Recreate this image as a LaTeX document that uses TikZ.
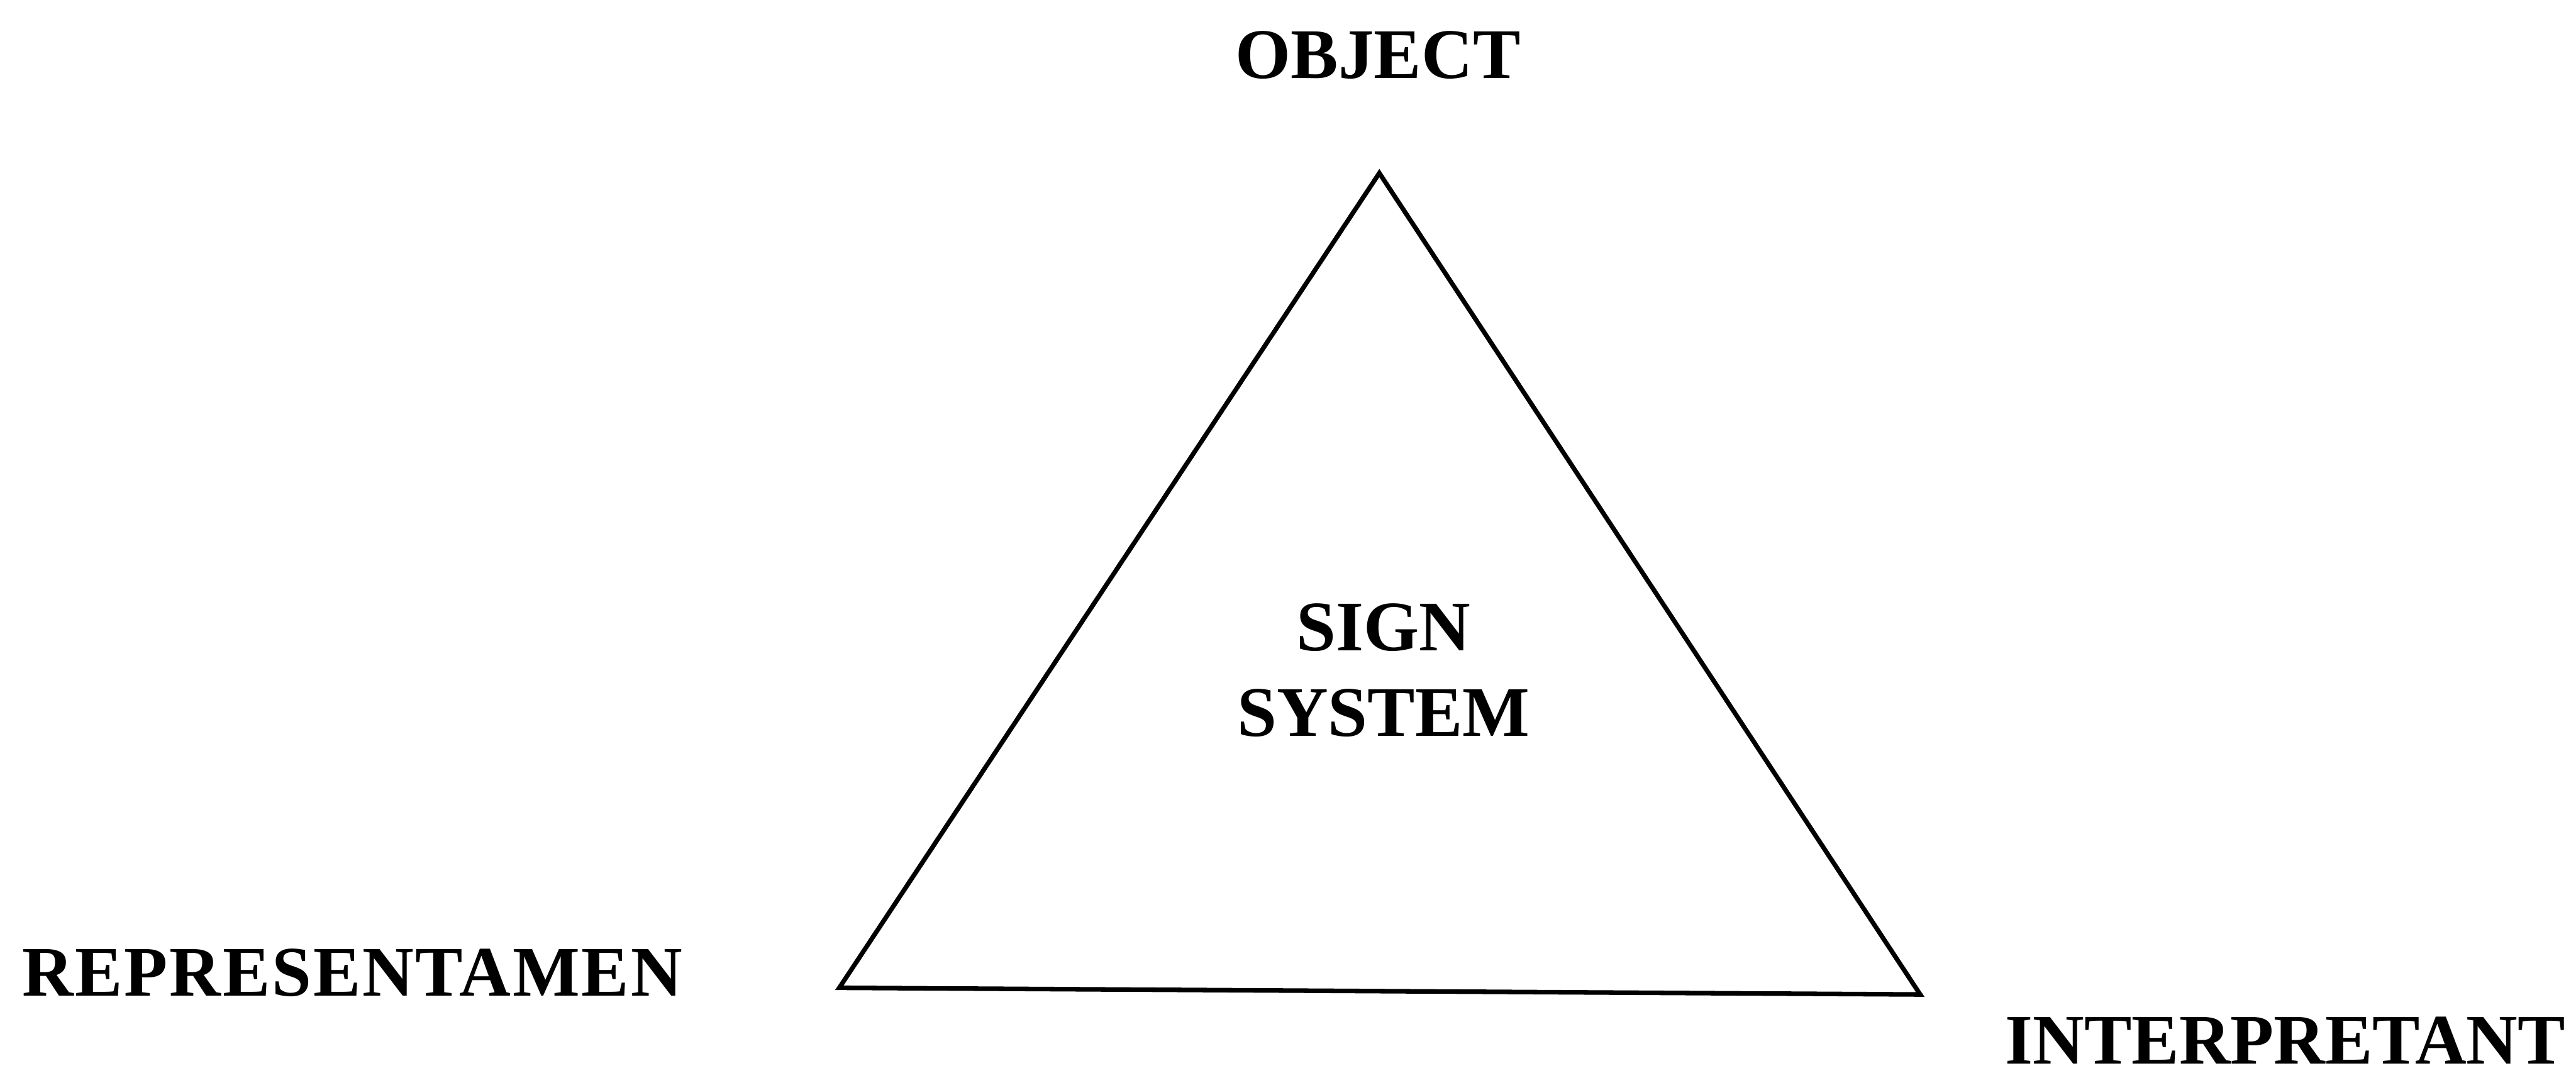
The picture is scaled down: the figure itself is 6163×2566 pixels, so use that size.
\documentclass[tikz,border=0pt]{standalone}
\usepackage{fontspec}
\setmainfont{Liberation Serif}

\begin{document}
\begin{tikzpicture}[x=0.025mm,y=-0.025mm,
    lbl/.style={inner sep=0pt,font=\fontsize{12.1}{14.5}\selectfont\bfseries}]
    \useasboundingbox (0,0) rectangle (6163,2566);
    \coordinate (obj) at (3300,414);
    \coordinate (rep) at (2008,2363);
    \coordinate (int) at (4594,2379);
    \draw[line width=0.78pt] (obj)--(int)--(rep)--cycle;
    \node[lbl,anchor=base] (object) at (3297,188) {OBJECT};
    \node[lbl,anchor=base west] (representamen) at (50,2383) {\addfontfeature{LetterSpace=2.5}REPRESENTAMEN};
    \node[lbl,anchor=base east] (interpretant) at (6140,2545) {INTERPRETANT};
    \node[lbl,align=center] (sign) at (3310,1603) {SIGN\\SYSTEM};
\end{tikzpicture}
\end{document}
